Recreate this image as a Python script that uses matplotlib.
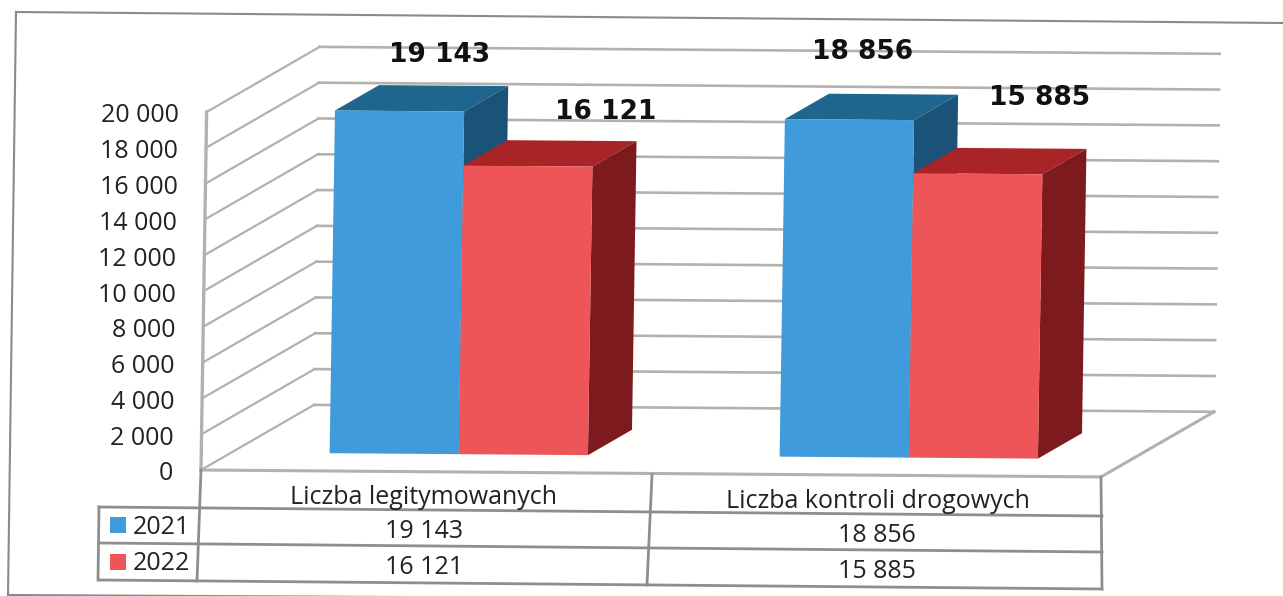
import matplotlib
matplotlib.use("Agg")
import matplotlib.pyplot as plt
from matplotlib.transforms import Affine2D

# ---- data ----
categories = ["Liczba legitymowanych", "Liczba kontroli drogowych"]
years = ["2021", "2022"]
values_2021 = [19143, 18856]
values_2022 = [16121, 15885]
labels_2021 = ["19 143", "18 856"]
labels_2022 = ["16 121", "15 885"]
y_ticks = [0, 2000, 4000, 6000, 8000, 10000, 12000, 14000, 16000, 18000, 20000]
y_tick_labels = ["0", "2 000", "4 000", "6 000", "8 000", "10 000", "12 000",
                 "14 000", "16 000", "18 000", "20 000"]

W, H = 1283, 596
fig = plt.figure(figsize=(W / 100, H / 100), dpi=100, facecolor="#fffffe")

# ---- geometry of the oblique view ----
PX_CAT = 450.0       # pixels per category
PX_K = 17.9 / 1000   # pixels per unit value
X0, Y0 = 201.0, 470.0
DEPTH_PX = (112.0, 66.0)
LEAN = 0.28 / 1000 / PX_CAT   # x shift per unit value, in categories
TILT = 0.0077 * PX_CAT / PX_K  # value shift per category
DX = DEPTH_PX[0] / PX_CAT
DV = DEPTH_PX[1] / PX_K

ax = fig.add_axes([0, 0, 1, 1])
ax.set_xlim(-X0 / PX_CAT, (W - X0) / PX_CAT)
ax.set_ylim(-(H - Y0) / PX_K, Y0 / PX_K)
ax.axis("off")

shear = Affine2D.from_values(1, -TILT, LEAN, 1, 0, 0) + ax.transData


def at_depth(d):
    return Affine2D().translate(d * DX, d * DV) + shear


# overlay in pixels for frame and table
ov = fig.add_axes([0, 0, 1, 1], facecolor="none")
ov.set_xlim(0, W)
ov.set_ylim(H, 0)
ov.axis("off")

GRID = "#b4b0b0"
BLUE, BLUE_TOP, BLUE_SIDE = "#3f9bdc", "#1f668f", "#1b5278"
RED, RED_TOP, RED_SIDE = "#ee5558", "#a82426", "#7c1a1d"

# walls and gridlines
for v in y_ticks:
    ax.plot([0, DX], [v, v + DV], color=GRID, lw=1.6, transform=shear, zorder=1)
    ax.plot([0, 2], [v, v], color=GRID, lw=1.9, transform=at_depth(1), zorder=1)
ax.plot([0, 0], [0, y_ticks[-1]], color=GRID, lw=2.4, transform=shear, zorder=1)
ax.plot([0, 2, 2 + DX], [0, 0, DV], color=GRID, lw=2.2, transform=shear, zorder=1)

# bars
BAR_W = 0.287
LEFT = 0.218
D0, D1 = 0.27, 0.66


def box(left, value, front, top, side, z):
    ax.bar([left], [value], width=BAR_W, align="edge", color=front, linewidth=0,
           transform=at_depth(D0), zorder=z + 1)
    # top and side faces, built from the value
    d = D1 - D0
    lx, rx = left + D0 * DX, left + BAR_W + D0 * DX
    base = D0 * DV
    ax.fill([lx, rx, rx + d * DX, lx + d * DX],
            [value + base, value + base, value + base + d * DV, value + base + d * DV],
            color=top, lw=0, transform=shear, zorder=z)
    ax.fill([rx, rx + d * DX, rx + d * DX, rx],
            [value + base, value + base + d * DV, base + d * DV, base],
            color=side, lw=0, transform=shear, zorder=z)


for i in range(2):
    x = i + LEFT
    box(x, values_2021[i], BLUE, BLUE_TOP, BLUE_SIDE, 3)
    box(x + BAR_W, values_2022[i], RED, RED_TOP, RED_SIDE, 5)

TXT = "#222222"
FONT = "Open Sans"
FS = 18

# y tick labels
for v, t in zip(y_ticks, y_tick_labels):
    px = X0 - 28 + LEAN * v * PX_CAT
    py = Y0 + 4 - PX_K * v
    ov.text(px, py, t, ha="right", va="center", fontsize=FS, family=FONT, color=TXT)

# value labels
lab_pos_2021 = [(440, 55), (863, 52)]
lab_pos_2022 = [(606, 112), (1040, 98)]
for (px, py), t in zip(lab_pos_2021 + lab_pos_2022, labels_2021 + labels_2022):
    ov.text(px, py, t, ha="center", va="center", fontsize=19, fontweight="bold",
            family="DejaVu Sans", color="#111111", zorder=10)

# table
TC = "#8f8d8d"
ov.plot([99, 1102], [507, 516], color=TC, lw=2)
ov.plot([99, 1102], [543, 552], color=TC, lw=2)
ov.plot([99, 1102], [580, 589], color=TC, lw=2)
ov.plot([99, 98], [507, 580], color=TC, lw=2)
ov.plot([201, 197], [470, 581], color=TC, lw=2)
ov.plot([652, 647], [475, 585], color=TC, lw=2)
ov.plot([1101, 1102], [477, 589], color=TC, lw=2)

# frame
ov.plot([16, 8], [12, 595], color="#8a8a8a", lw=1.5)
ov.plot([16, 1283], [12, 23], color="#8a8a8a", lw=1.5)
ov.plot([8, 400], [595, 597], color="#8a8a8a", lw=1.5)

ov.text(424, 498, categories[0], ha="center", va="center", fontsize=FS, family=FONT, color=TXT)
ov.text(878, 502, categories[1], ha="center", va="center", fontsize=FS, family=FONT, color=TXT)
rows = [(labels_2021, years[0], BLUE, 531, 535, 528, 525),
        (labels_2022, years[1], RED, 568, 571, 564, 561.5)]
for vals, yr, col, y1, y2, yl, ys in rows:
    ov.text(424, y1, vals[0], ha="center", va="center", fontsize=FS, family=FONT, color=TXT)
    ov.text(877, y2, vals[1], ha="center", va="center", fontsize=FS, family=FONT, color=TXT)
    ov.text(161, yl, yr, ha="center", va="center", fontsize=FS, family=FONT, color=TXT)
    ov.scatter([117.5], [ys], marker="s", s=125, color=col, linewidths=0)

fig.savefig("out.png", dpi=100, facecolor=fig.get_facecolor())
